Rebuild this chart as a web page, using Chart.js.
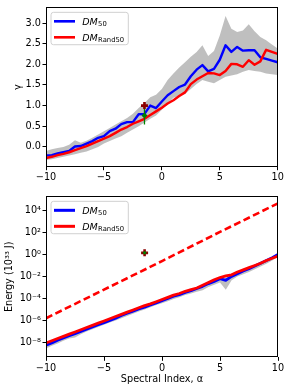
<!DOCTYPE html>
<html><head><meta charset="utf-8">
<script src="https://cdn.jsdelivr.net/npm/chart.js@4.4.0/dist/chart.umd.min.js"></script>
<style>
html,body{margin:0;padding:0;background:#fff;width:289px;height:389px;overflow:hidden}
canvas{position:absolute;left:0}
#c1{top:0}
#c2{top:189px}
</style></head><body>
<canvas id="c1" width="289" height="190"></canvas>
<canvas id="c2" width="289" height="200"></canvas>
<script>
// ---------- data ----------
const alpha = [-10,-9.5,-9,-8.5,-8,-7.5,-7,-6.5,-6,-5.5,-5,-4.5,-4,-3.5,-3,-2.5,-2,-1.5,-1,-0.5,0,0.5,1,1.5,2,2.5,3,3.5,4,4.5,5,5.5,6,6.5,7,7.5,8,8.5,9,9.5,10];

const gammaDM50 = [-0.21,-0.20,-0.16,-0.13,-0.10,0.01,0.02,0.08,0.14,0.22,0.26,0.38,0.44,0.55,0.60,0.60,0.79,0.80,1.00,0.94,1.10,1.25,1.35,1.45,1.51,1.71,1.87,1.98,1.83,1.89,2.11,2.46,2.30,2.42,2.33,2.34,2.34,2.17,2.13,2.09,2.05];
const gammaRand50 = [-0.27,-0.24,-0.20,-0.17,-0.13,-0.08,-0.03,0.02,0.08,0.14,0.20,0.26,0.34,0.42,0.48,0.56,0.62,0.68,0.77,0.86,0.95,1.05,1.13,1.23,1.32,1.52,1.63,1.71,1.79,1.78,1.74,1.84,2.01,2.00,1.94,2.10,1.99,2.07,2.35,2.30,2.25];
const gammaBandUpper = [-0.10,-0.06,-0.03,0.00,0.05,0.16,0.10,0.15,0.22,0.30,0.38,0.46,0.54,0.62,0.70,0.80,0.94,1.06,1.20,1.26,1.40,1.62,1.78,1.92,2.05,2.18,2.30,2.46,2.20,2.32,2.70,3.17,2.86,2.78,2.82,2.97,2.80,2.66,2.58,2.48,2.38];
const gammaBandLower = [-0.32,-0.30,-0.27,-0.24,-0.21,-0.18,-0.14,-0.11,-0.06,0.00,0.08,0.14,0.20,0.26,0.34,0.42,0.50,0.59,0.68,0.76,0.90,1.05,1.19,1.24,1.28,1.40,1.52,1.62,1.58,1.54,1.62,1.70,1.73,1.76,1.82,1.86,1.84,1.82,1.78,1.76,1.74];

const energyDM50 = [5.62e-9,8.91e-9,1.58e-8,2.51e-8,3.98e-8,6.31e-8,1.0e-7,1.58e-7,2.51e-7,3.98e-7,6.31e-7,1.0e-6,1.58e-6,2.82e-6,4.47e-6,7.08e-6,1.12e-5,1.58e-5,2.51e-5,3.98e-5,6.31e-5,1.0e-4,1.58e-4,2.24e-4,3.55e-4,5.01e-4,7.94e-4,1.26e-3,2.24e-3,3.55e-3,6.31e-3,4.47e-3,1.0e-2,1.78e-2,3.16e-2,5.01e-2,8.91e-2,0.158,0.282,0.501,1.0];
const energyRand50 = [8.91e-9,1.41e-8,2.24e-8,3.55e-8,5.62e-8,8.91e-8,1.41e-7,2.24e-7,3.55e-7,5.62e-7,8.91e-7,1.41e-6,2.24e-6,3.55e-6,5.62e-6,8.91e-6,1.41e-5,2.24e-5,3.16e-5,5.01e-5,7.94e-5,1.26e-4,2.0e-4,2.82e-4,4.47e-4,6.31e-4,8.91e-4,1.58e-3,2.82e-3,5.01e-3,7.94e-3,1.12e-2,1.41e-2,2.51e-2,3.98e-2,6.31e-2,0.1,0.158,0.282,0.447,0.708];
const energyBandUpper = [7.08e-9,1.12e-8,2.0e-8,3.16e-8,5.01e-8,7.94e-8,1.26e-7,2.0e-7,3.16e-7,5.01e-7,7.94e-7,1.26e-6,2.0e-6,3.55e-6,5.62e-6,8.91e-6,1.41e-5,2.0e-5,3.16e-5,5.01e-5,7.94e-5,1.26e-4,2.0e-4,2.82e-4,4.47e-4,6.31e-4,1.0e-3,1.58e-3,2.82e-3,4.47e-3,7.94e-3,7.94e-3,1.26e-2,2.24e-2,3.98e-2,6.31e-2,0.112,0.2,0.355,0.631,1.26];
const energyBandLower = [2.82e-9,5.01e-9,7.94e-9,1.41e-8,2.24e-8,2.82e-8,5.62e-8,1.0e-7,1.58e-7,2.51e-7,3.98e-7,6.31e-7,1.0e-6,1.58e-6,2.51e-6,3.98e-6,6.31e-6,1.0e-5,1.58e-5,2.51e-5,3.55e-5,5.62e-5,8.91e-5,1.26e-4,2.0e-4,2.82e-4,3.98e-4,5.62e-4,1.12e-3,1.78e-3,2.82e-3,6.31e-4,4.47e-3,1.0e-2,1.58e-2,2.51e-2,4.47e-2,7.94e-2,0.141,0.282,0.631];

const dashedAlpha = [-10,-5,0,5,10];
const energyDashed = [1.58e-6,6.31e-4,0.251,112,44700];

const obsAlpha = [-1.5];
const obsGammaRed = [1.0];
const obsGammaGreen = [0.76];
const obsGammaErrLow = [0.54];
const obsGammaErrHigh = [0.96];
const obsEnergy = [1.4];

const xTicks = [-10,-5,0,5,10];
const xTickLabels = ['\u221210','\u22125','0','5','10'];
const gammaTicks = [0,0.5,1,1.5,2,2.5,3];
const gammaTickLabels = ['0.0','0.5','1.0','1.5','2.0','2.5','3.0'];
const energyTicks = [1e-8,1e-6,1e-4,1e-2,1,1e2,1e4];
const energyTickLabels = ['10\u207B\u2078','10\u207B\u2076','10\u207B\u2074','10\u207B\u00B2','10\u2070','10\u00B2','10\u2074'];

const seriesSubs = ['50','Rand50'];

// ---------- helpers ----------
const FONT = 'DejaVu Sans';
const FS = 9.7;
const pts = (xs, ys) => xs.map((x, i) => ({x: x, y: ys[i]}));

const framePlugin = {
  id: 'frame',
  afterDatasetsDraw(chart) {
    const a = chart.chartArea, ctx = chart.ctx;
    ctx.save();
    ctx.strokeStyle = '#000';
    ctx.lineWidth = 1;
    ctx.strokeRect(Math.round(a.left) + 0.5, Math.round(a.top) + 0.5,
                   Math.round(a.right) - Math.round(a.left) - 1, Math.round(a.bottom) - Math.round(a.top) - 1);
    ctx.restore();
  }
};

function legendPlugin(lw) {
  return {
    id: 'mplLegend',
    afterDraw(chart) {
      const ctx = chart.ctx, a = chart.chartArea;
      const x0 = a.left + 5, y0 = a.top + 5, w = 77.3, h = 32.4, r = 2.5;
      ctx.save();
      ctx.beginPath();
      ctx.moveTo(x0 + r, y0);
      ctx.lineTo(x0 + w - r, y0); ctx.quadraticCurveTo(x0 + w, y0, x0 + w, y0 + r);
      ctx.lineTo(x0 + w, y0 + h - r); ctx.quadraticCurveTo(x0 + w, y0 + h, x0 + w - r, y0 + h);
      ctx.lineTo(x0 + r, y0 + h); ctx.quadraticCurveTo(x0, y0 + h, x0, y0 + h - r);
      ctx.lineTo(x0, y0 + r); ctx.quadraticCurveTo(x0, y0, x0 + r, y0);
      ctx.closePath();
      ctx.fillStyle = 'rgba(255,255,255,0.8)';
      ctx.fill();
      ctx.strokeStyle = '#d0d0d0';
      ctx.lineWidth = 1;
      ctx.stroke();
      const colors = ['#0000ff', '#ff0000'];
      seriesSubs.forEach((sub, i) => {
        const yy = y0 + 9 + i * 16;
        ctx.strokeStyle = colors[i];
        ctx.lineWidth = lw;
        ctx.lineCap = 'butt';
        ctx.beginPath(); ctx.moveTo(x0 + 3, yy); ctx.lineTo(x0 + 24, yy); ctx.stroke();
        ctx.fillStyle = '#000';
        ctx.textBaseline = 'alphabetic';
        ctx.textAlign = 'left';
        ctx.font = 'italic 9.5px "' + FONT + '"';
        ctx.fillText('DM', x0 + 31.3, yy + 3.4);
        const wDM = ctx.measureText('DM').width;
        ctx.font = '6.8px "' + FONT + '"';
        ctx.fillText(sub, x0 + 31.3 + wDM + 0.3, yy + 5);
      });
      ctx.restore();
    }
  };
}

function xScale(height, showTitle) {
  return {
    type: 'linear', min: -10, max: 10,
    afterBuildTicks: s => { s.ticks = xTicks.map(v => ({value: v})); },
    afterFit: s => { s.height = height; },
    grid: {drawOnChartArea: false, drawTicks: true, tickLength: 3.5, tickColor: '#000', tickWidth: 1},
    border: {display: false},
    ticks: {autoSkip: false, maxRotation: 0, color: '#000', padding: 1.5, font: {family: FONT, size: FS},
            callback: v => xTickLabels[xTicks.indexOf(v)]},
    title: {display: showTitle, text: 'Spectral Index, \u03B1', color: '#000', font: {family: FONT, size: FS},
            padding: {top: 0, bottom: 4}}
  };
}

const commonPlugins = {legend: {display: false}, tooltip: {enabled: false}};

// ---------- top chart ----------
new Chart(document.getElementById('c1'), {
  type: 'line',
  data: {
    datasets: [
      {data: pts(alpha, gammaBandLower), borderWidth: 0, pointRadius: 0, fill: false, order: 10},
      {data: pts(alpha, gammaBandUpper), borderWidth: 0, pointRadius: 0, fill: '-1',
       backgroundColor: 'rgba(128,128,128,0.5)', order: 9},
      {data: pts(alpha, gammaDM50), borderColor: '#0000ff', borderWidth: 2.4, pointRadius: 0,
       borderJoinStyle: 'round', fill: false, order: 5},
      {data: pts(alpha, gammaRand50), borderColor: '#ff0000', borderWidth: 2.4, pointRadius: 0,
       borderJoinStyle: 'round', fill: false, order: 4},
      {data: [{x: obsAlpha[0], y: obsGammaErrLow[0]}, {x: obsAlpha[0], y: obsGammaErrHigh[0]}],
       borderColor: '#008000', borderWidth: 1.3, pointRadius: 0, fill: false, order: 2},
      {data: pts(obsAlpha, obsGammaRed), showLine: false, pointStyle: 'cross', pointRadius: 3.5,
       pointBorderWidth: 2.6, pointBorderColor: '#8b0000', pointBackgroundColor: '#8b0000', order: 1},
      {data: pts(obsAlpha, obsGammaGreen), showLine: false, pointStyle: 'rectRot', pointRadius: 3,
       pointBorderWidth: 0, pointBackgroundColor: '#008000', pointBorderColor: '#008000', order: 0}
    ]
  },
  options: {
    responsive: false, animation: false, devicePixelRatio: 1,
    layout: {padding: {left: 0, right: 11.3, top: 4.3, bottom: 0}},
    plugins: commonPlugins,
    scales: {
      x: xScale(23.3, false),
      y: {
        type: 'linear', min: -0.48, max: 3.38,
        afterBuildTicks: s => { s.ticks = gammaTicks.map(v => ({value: v})); },
        afterFit: s => { s.width = 46; },
        grid: {drawOnChartArea: false, drawTicks: true, tickLength: 3.5, tickColor: '#000', tickWidth: 1},
        border: {display: false},
        ticks: {autoSkip: false, color: '#000', padding: 1.5, font: {family: FONT, size: FS},
                callback: v => gammaTickLabels[gammaTicks.indexOf(v)]},
        title: {display: true, text: '\u03B3', color: '#000', font: {family: FONT, size: FS},
                padding: {top: 12.2, bottom: 0}}
      }
    }
  },
  plugins: [framePlugin, legendPlugin(2.6)]
});

// ---------- bottom chart ----------
new Chart(document.getElementById('c2'), {
  type: 'line',
  data: {
    datasets: [
      {data: pts(alpha, energyBandLower), borderWidth: 0, pointRadius: 0, fill: false, order: 10},
      {data: pts(alpha, energyBandUpper), borderWidth: 0, pointRadius: 0, fill: '-1',
       backgroundColor: 'rgba(128,128,128,0.5)', order: 9},
      {data: pts(alpha, energyDM50), borderColor: '#0000ff', borderWidth: 2.8, pointRadius: 0,
       borderJoinStyle: 'round', fill: false, order: 5},
      {data: pts(alpha, energyRand50), borderColor: '#ff0000', borderWidth: 2.8, pointRadius: 0,
       borderJoinStyle: 'round', fill: false, order: 4},
      {data: pts(dashedAlpha, energyDashed), borderColor: '#ff0000', borderWidth: 2.6, pointRadius: 0,
       borderDash: [7, 3.5], fill: false, order: 3},
      {data: pts(obsAlpha, obsEnergy), showLine: false, pointStyle: 'cross', pointRadius: 3.5,
       pointBorderWidth: 2.6, pointBorderColor: '#8b0000', pointBackgroundColor: '#8b0000', order: 1},
      {data: pts(obsAlpha, obsEnergy), showLine: false, pointStyle: 'rectRot', pointRadius: 2,
       pointBorderWidth: 0, pointBackgroundColor: '#008000', pointBorderColor: '#008000', order: 0}
    ]
  },
  options: {
    responsive: false, animation: false, devicePixelRatio: 1,
    layout: {padding: {left: 0, right: 11, top: 5.3, bottom: 0}},
    plugins: commonPlugins,
    scales: {
      x: xScale(31.7, true),
      y: {
        type: 'logarithmic', min: 4.4e-10, max: 1.95e5,
        afterBuildTicks: s => { s.ticks = energyTicks.map(v => ({value: v})); },
        afterFit: s => { s.width = 46; },
        grid: {drawOnChartArea: false, drawTicks: true, tickLength: 3.5, tickColor: '#000', tickWidth: 1},
        border: {display: false},
        ticks: {autoSkip: false, color: '#000', padding: 1.5, font: {family: FONT, size: FS},
                callback: v => energyTickLabels[energyTicks.indexOf(v)]},
        title: {display: true, text: 'Energy (10\u00B3\u00B3 J)', color: '#000', font: {family: FONT, size: FS},
                padding: {top: 3.4, bottom: 0}}
      }
    }
  },
  plugins: [framePlugin, legendPlugin(3)]
});
</script>
</body></html>
